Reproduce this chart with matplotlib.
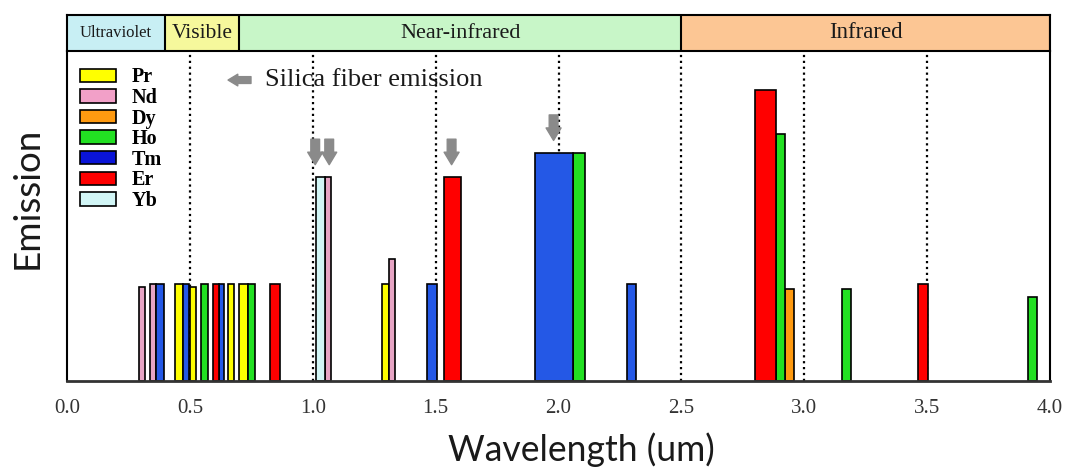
import numpy as np
import matplotlib
matplotlib.use('Agg')
import matplotlib.pyplot as plt
from matplotlib.patches import Patch

SERIF = 'Liberation Serif'
SANS = 'Lato'

# emission lines per ion: centre wavelength (um), line width (um), relative emission
elements = ['Pr', 'Nd', 'Dy', 'Ho', 'Tm', 'Er', 'Yb']
colors = ['#ffff00', '#e6a4c4', '#ff9a10', '#22e022', '#2458e6', '#ff0000', '#d2f6f6']
legend_colors = ['#ffff00', '#f2a0c8', '#ff9a10', '#22e022', '#0a14d8', '#ff0000', '#d2f6f6']

pr_wl = [0.455, 0.512, 0.667, 0.720, 1.295]
pr_bw = [0.030, 0.025, 0.027, 0.037, 0.030]
pr_em = [1.00, 0.97, 1.00, 1.00, 1.00]

nd_wl = [0.305, 0.350, 1.062, 1.323]
nd_bw = [0.024, 0.022, 0.023, 0.027]
nd_em = [0.97, 1.00, 2.10, 1.26]

dy_wl = [2.940]
dy_bw = [0.040]
dy_em = [0.95]

ho_wl = [0.559, 0.751, 2.084, 2.903, 3.172, 3.929]
ho_bw = [0.028, 0.028, 0.048, 0.037, 0.040, 0.040]
ho_em = [1.00, 1.00, 2.35, 2.55, 0.95, 0.87]

tm_wl = [0.378, 0.485, 0.628, 1.485, 1.982, 2.298]
tm_bw = [0.035, 0.025, 0.022, 0.038, 0.155, 0.035]
tm_em = [1.00, 1.00, 1.00, 1.00, 2.35, 1.00]

er_wl = [0.606, 0.846, 1.570, 2.842, 3.482]
er_bw = [0.026, 0.040, 0.070, 0.085, 0.041]
er_em = [1.00, 1.00, 2.10, 3.00, 1.00]

yb_wl = [1.031]
yb_bw = [0.038]
yb_em = [2.10]

wl = [pr_wl, nd_wl, dy_wl, ho_wl, tm_wl, er_wl, yb_wl]
bw = [pr_bw, nd_bw, dy_bw, ho_bw, tm_bw, er_bw, yb_bw]
em = [pr_em, nd_em, dy_em, ho_em, tm_em, er_em, yb_em]

# silica fiber emission peaks
silica_wl = [1.010, 1.067, 1.565, 1.980]

# spectral regions
regions = ['Ultraviolet', 'Visible', 'Near-infrared', 'Infrared']
region_edges = [0.0, 0.4, 0.7, 2.5, 4.0]
region_colors = ['#c8eff4', '#f6f89c', '#c8f6c8', '#fcc694']
region_sizes = [12, 15.5, 16, 16.5]

fig = plt.figure(figsize=(10.7, 4.71), dpi=100)
ax = fig.add_axes([67/1070, 90/471, 983/1070, 330/471])
band = fig.add_axes([67/1070, 420/471, 983/1070, 36/471])

# region strip above the plot
for i in range(len(regions)):
  band.axvspan(region_edges[i], region_edges[i+1], color=region_colors[i], lw=0)
  band.axvline(region_edges[i+1], color='black', lw=1.5)
  band.text((region_edges[i] + region_edges[i+1]) / 2, 0.5, regions[i],
            ha='center', va='center', fontsize=region_sizes[i], family=SERIF, color='#1a1a1a')
band.set_xlim(0, 4)
band.set_ylim(0, 1)
band.set_xticks([])
band.set_yticks([])
for s in band.spines.values():
  s.set_linewidth(1.5)

# dotted guides every 0.5 um
for x in np.arange(0.5, 3.51, 0.5):
  ax.axvline(x, color='black', ls=':', lw=1.6, zorder=1)

for i in range(len(elements)):
  ax.bar(wl[i], em[i], width=bw[i], color=colors[i], edgecolor='black', lw=1.2, zorder=2)

# arrows marking silica emission, placed above the tallest nearby line
all_wl = np.concatenate([np.array(w) for w in wl])
all_em = np.concatenate([np.array(e) for e in em])
for x in silica_wl:
  top = all_em[np.abs(all_wl - x) < 0.06].max()
  ax.annotate('', xy=(x, top + 0.1), xytext=(x, top + 0.42),
              arrowprops=dict(arrowstyle='simple,head_length=0.5,head_width=0.6,tail_width=0.35',
                              color='#8a8a8a', mutation_scale=18), zorder=3)

ax.annotate('', xy=(0.161, 0.912), xytext=(0.190, 0.912), xycoords='axes fraction',
            arrowprops=dict(arrowstyle='simple,head_length=0.5,head_width=0.6,tail_width=0.35',
                            color='#8a8a8a', mutation_scale=14))
ax.text(0.201, 0.912, 'Silica fiber emission', transform=ax.transAxes, ha='left', va='center',
        fontsize=19, family=SERIF, color='#1a1a1a')

handles = [Patch(facecolor=legend_colors[i], edgecolor='black', lw=1.2, label=elements[i])
           for i in range(len(elements))]
ax.legend(handles=handles, loc='upper left', bbox_to_anchor=(0.005, 0.975), frameon=False,
          prop={'family': SERIF, 'weight': 'bold', 'size': 14.5}, handlelength=1.8,
          handleheight=0.65, labelspacing=0.03, handletextpad=0.75, borderaxespad=0)

ax.set_xlim(0, 4)
ax.set_ylim(0, 3.40)
ax.set_xticks(np.arange(0, 4.01, 0.5))
ax.set_xticklabels(['%.1f' % t for t in np.arange(0, 4.01, 0.5)], family=SERIF, fontsize=15, color='#333333')
ax.tick_params(axis='x', length=0, pad=13)
ax.set_yticks([])
ax.spines['top'].set_visible(False)
ax.spines['bottom'].set_linewidth(2)
ax.spines['bottom'].set_color('#333333')
ax.spines['left'].set_linewidth(1.5)
ax.spines['right'].set_linewidth(1.5)

ax.set_xlabel('Wavelength (um)', family=SANS, fontsize=25.6, color='#1a1a1a')
ax.xaxis.set_label_coords(0.523, -0.155)
ax.set_ylabel('Emission', family=SANS, fontsize=26.5, color='#1a1a1a')
ax.yaxis.set_label_coords(-0.024, 0.555)

fig.savefig('out.png', dpi=100)
